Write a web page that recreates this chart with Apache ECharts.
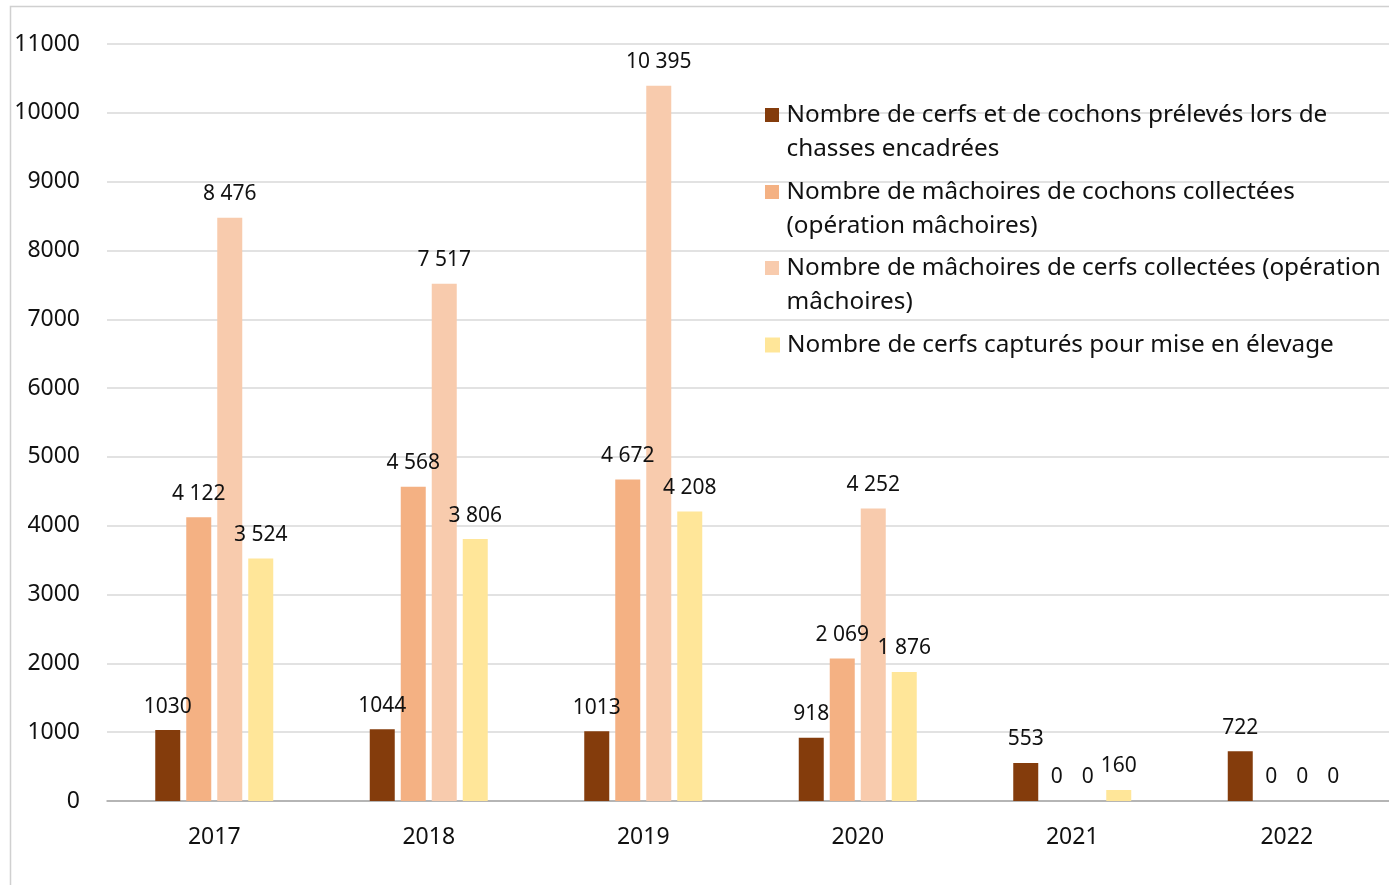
<!DOCTYPE html>
<html><head><meta charset="utf-8">
<script src="https://cdn.jsdelivr.net/npm/echarts@6/dist/echarts.min.js"></script>
<style>html,body{margin:0;padding:0;background:#fff;overflow:hidden;width:1389px;height:885px}#c{width:1410px;height:885px}</style>
</head><body><div id="c"></div>
<script>
const years = ['2017','2018','2019','2020','2021','2022'];
const seriesNames = [
  'Nombre de cerfs et de cochons prélevés lors de chasses encadrées',
  'Nombre de mâchoires de cochons collectées (opération mâchoires)',
  'Nombre de mâchoires de cerfs collectées (opération mâchoires)',
  'Nombre de cerfs capturés pour mise en élevage'
];
const legendLabels = [
  'Nombre de cerfs et de cochons prélevés lors de\nchasses encadrées',
  'Nombre de mâchoires de cochons collectées\n(opération mâchoires)',
  'Nombre de mâchoires de cerfs collectées (opération\nmâchoires)',
  'Nombre de cerfs capturés pour mise en élevage'
];
const chasses = [1030, 1044, 1013, 918, 553, 722];
const machoiresCochons = [4122, 4568, 4672, 2069, 0, 0];
const machoiresCerfs = [8476, 7517, 10395, 4252, 0, 0];
const cerfsCaptures = [3524, 3806, 4208, 1876, 160, 0];
const colors = ['#843C0C', '#F4B183', '#F8CBAD', '#FFE699'];
const yTicks = {min: 0, max: 11000, interval: 1000};

const FONT = 'Noto Sans';
const allData = [chasses, machoiresCochons, machoiresCerfs, cerfsCaptures];

function fmt(v, grouped) {
  if (!grouped) return String(v);
  return String(v).replace(/\B(?=(\d{3})+(?!\d))/g, ' ');
}

const tallIcon = 'path://M0,0h14v14h-14Z M0,47.9h0.1v0.1h-0.1Z';
const legendTops = [98, 175, 251, 328];
const legends = seriesNames.map((n, i) => ({
  data: [n],
  left: 765,
  top: legendTops[i],
  padding: 0,
  itemWidth: 15,
  itemHeight: i < 3 ? 48 : 15,
  icon: i < 3 ? tallIcon : 'rect',
  selectedMode: false,
  formatter: () => legendLabels[i],
  textStyle: {fontFamily: FONT, fontSize: 24.3, color: '#111', lineHeight: 34, padding: [0,0,0,2]}
}));

const series = seriesNames.map((n, i) => ({
  name: n,
  type: 'bar',
  data: allData[i],
  barWidth: 25,
  barGap: '24%',
  itemStyle: {color: colors[i]},
  label: {
    show: true,
    position: 'top',
    distance: 13,
    fontFamily: FONT,
    fontSize: 21,
    color: '#111',
    formatter: p => fmt(p.value, i > 0)
  }
}));

const chart = echarts.init(document.getElementById('c'));
chart.setOption({
  animation: false,
  backgroundColor: '#fff',
  color: colors,
  grid: {left: 107, top: 44, height: 757, width: 1287},
  legend: legends,
  xAxis: {
    type: 'category',
    data: years,
    axisLine: {lineStyle: {color: '#a6a6a6', width: 1.5}},
    axisTick: {show: false},
    axisLabel: {fontFamily: FONT, fontSize: 23, color: '#111', margin: 25}
  },
  yAxis: {
    type: 'value',
    min: yTicks.min, max: yTicks.max, interval: yTicks.interval,
    axisLine: {show: false},
    axisTick: {show: false},
    splitLine: {lineStyle: {color: '#d9d9d9', width: 1.5}},
    axisLabel: {fontFamily: FONT, fontSize: 23, color: '#111', margin: 27, formatter: v => String(v)}
  },
  graphic: [{
    type: 'rect', silent: true, z: -1,
    shape: {x: 10.5, y: 6.5, width: 1395, height: 900},
    style: {fill: 'none', stroke: '#d0d0d0', lineWidth: 1.5}
  }],
  series: series
});
</script></body></html>
